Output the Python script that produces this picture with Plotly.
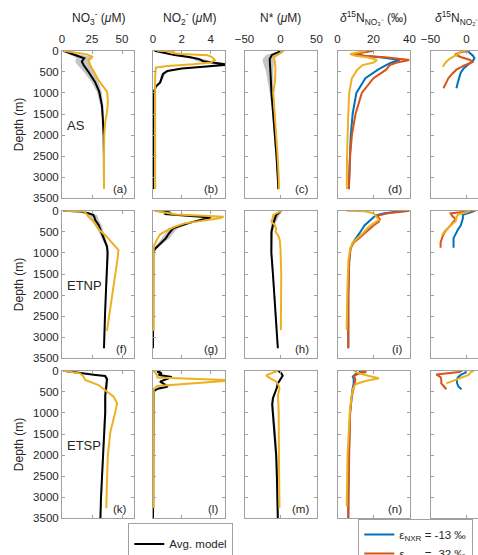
import plotly.graph_objects as go

W, H = 478, 555
FONT = "Liberation Sans, Arial, Helvetica, sans-serif"
TXT = "#262626"
AX = "#a0a0a0"
C_AVG, C_OBS, C_BLUE, C_ORANGE, C_BAND = "#000000", "#EDB120", "#0072BD", "#D95319", "rgba(150,150,150,0.55)"

# ---------------- data (depth in m) ----------------
# Arabian Sea (AS)
as_no3_avg_d = [0, 50, 100, 140, 180, 260, 340, 500, 740, 970, 1300, 1600, 2000, 2500, 3000, 3280]
as_no3_avg = [1, 6, 11, 15, 18.5, 16.5, 18, 22, 27.5, 31, 33.3, 34, 34.7, 34.9, 35, 35]
as_no3_lo = [0, 3, 7, 10, 12, 11, 13, 18, 24.5, 29, 32, 33.2, 34, 34.3, 34.5, 34.5]
as_no3_hi = [2, 10, 17, 24, 26, 22, 23, 26, 30.5, 33, 34.5, 35, 35.4, 35.5, 35.5, 35.5]
as_no3_obs_d = [0, 40, 87, 140, 220, 340, 450, 580, 700, 810, 970, 1200, 1450, 1700, 2000, 2500, 3000, 3280]
as_no3_obs = [1, 10, 20.7, 25, 22, 23.5, 25.5, 27.7, 30.5, 33.3, 37.5, 38.3, 37.5, 36, 35.2, 35, 35, 35]

as_no2_avg_d = [0, 30, 60, 100, 150, 200, 250, 300, 330, 380, 420, 480, 550, 650, 750, 850, 1000, 3280]
as_no2_avg = [0.1, 0.5, 0.8, 1.5, 2.5, 3.2, 3.5, 4.8, 5.2, 3.5, 2.0, 1.0, 0.7, 0.6, 0.5, 0.2, 0.03, 0.0]
as_no2_lo = [0, 0.3, 0.6, 1.2, 2.1, 2.8, 3.0, 4.3, 4.8, 3.0, 1.7, 0.8, 0.55, 0.5, 0.4, 0.1, 0, 0]
as_no2_hi = [0.2, 0.7, 1.0, 1.8, 2.9, 3.6, 4.0, 5.2, 5.5, 4.0, 2.3, 1.2, 0.85, 0.7, 0.6, 0.3, 0.06, 0.02]
as_no2_obs_d = [0, 20, 50, 80, 110, 150, 220, 280, 320, 360, 400, 600, 3280]
as_no2_obs = [0.3, 1.5, 1.2, 2.0, 3.8, 4.1, 4.3, 4.0, 2.8, 1.0, 0.2, 0.15, 0.15]

as_ns_avg_d = [0, 50, 100, 200, 300, 500, 1000, 1500, 2000, 2500, 3000, 3280]
as_ns_avg = [2, -5, -12, -15, -15, -14, -12.5, -10, -7.5, -5.5, -3.8, -3]
as_ns_lo = [0, -10, -20, -25, -24, -20, -15, -11.5, -9, -6.5, -4.8, -4]
as_ns_hi = [4, 0, -6, -9, -10, -10, -10, -8.5, -6, -4.5, -2.8, -2]
as_ns_obs_d = [0, 50, 100, 150, 250, 400, 700, 1000, 1500, 2000, 2500, 3000, 3280]
as_ns_obs = [5, 0, -6, -9, -8, -7, -7.5, -10, -8, -5.5, -4, -2.5, -2]

as_d15no3_d = [0, 40, 80, 120, 160, 220, 280, 340, 450, 650, 1000, 1500, 2000, 2500, 3000, 3280]
as_d15no3_obs = [16, 12, 7, 10, 17, 22, 20, 14, 11, 8, 6.5, 6, 5.5, 5.3, 5.2, 5.2]
as_d15no3_m13 = [18, 14, 9, 14, 25, 34.5, 30, 27, 22.5, 15.5, 10.5, 8.4, 7.4, 6.9, 6.5, 6.3]
as_d15no3_m32 = [20, 15, 9, 15, 28, 40, 33, 29, 27, 20, 13.5, 10, 8, 7, 6.5, 6.3]

as_d15no2_m13_d = [0, 60, 120, 180, 240, 320, 420, 520, 620, 750, 890]
as_d15no2_m13 = [1, 5, 9, 11, 9, 3, -4, -8, -10, -12, -14]
as_d15no2_m32_d = [0, 40, 90, 150, 220, 270, 350, 450, 550, 650, 750, 890]
as_d15no2_m32 = [3, -8, -16, -8, 5, 8, -3, -14, -20, -25, -28, -32]
as_d15no2_obs_d = [0, 30, 80, 140, 200, 280, 380]
as_d15no2_obs = [-2, -9, -12, -19, -24, -29, -33]

# Eastern Tropical North Pacific (ETNP)
etnp_no3_avg_d = [0, 20, 60, 100, 150, 220, 340, 500, 650, 850, 1000, 1500, 2000, 2500, 3000, 3260]
etnp_no3_avg = [1, 15, 22, 26, 27, 27.7, 30.5, 32.5, 34.7, 37.5, 38, 37.5, 36.5, 35.8, 35.2, 35]
etnp_no3_lo = [0, 13, 19, 22, 23, 24.5, 27.5, 30.5, 33, 36.5, 37, 36.8, 36, 35.3, 34.7, 34.5]
etnp_no3_hi = [2, 17, 25, 29, 30, 30.5, 33, 34.5, 36, 38.5, 39, 38.2, 37, 36.3, 35.7, 35.5]
etnp_no3_obs_d = [0, 20, 60, 140, 300, 450, 580, 700, 820, 930, 1100, 1500, 2000, 2500, 2850]
etnp_no3_obs = [1, 18, 20, 22, 27.5, 31, 36, 40, 43.5, 47, 46.5, 44.5, 42, 39.5, 37.5]

etnp_no2_avg_d = [0, 40, 80, 120, 160, 200, 300, 420, 540, 650, 750, 900, 1000, 3260]
etnp_no2_avg = [0.2, 1.2, 0.8, 2.5, 4.0, 3.5, 2.4, 1.4, 1.1, 0.9, 0.6, 0.15, 0.02, 0.0]
etnp_no2_lo = [0.1, 1.0, 0.6, 2.2, 3.7, 3.2, 2.1, 1.1, 0.85, 0.65, 0.4, 0.05, 0, 0]
etnp_no2_hi = [0.3, 1.4, 1.0, 2.8, 4.3, 3.8, 2.7, 1.7, 1.4, 1.15, 0.8, 0.25, 0.05, 0.02]
etnp_no2_obs_d = [0, 40, 90, 120, 145, 180, 230, 300, 380, 460, 560, 700, 850, 2850]
etnp_no2_obs = [0.1, 0.8, 1.6, 3.5, 4.9, 4.6, 3.5, 2.2, 1.5, 1.0, 0.5, 0.25, 0.05, 0.05]

etnp_ns_avg_d = [0, 50, 100, 200, 300, 500, 800, 1000, 1500, 2000, 2500, 3000, 3260]
etnp_ns_avg = [1, -3, -6, -8, -10, -12.5, -13, -12.7, -10.5, -8.5, -6.5, -4.5, -3.7]
etnp_ns_lo = [0, -6, -10, -12, -13, -14.5, -14.5, -13.7, -11.5, -9.5, -7.5, -5.5, -4.7]
etnp_ns_hi = [2, 0, -2, -4, -7, -10.5, -11.5, -11.7, -9.5, -7.5, -5.5, -3.5, -2.7]
etnp_ns_obs_d = [0, 50, 100, 180, 260, 340, 420, 500, 600, 700, 900, 1500, 2000, 2500, 2830]
etnp_ns_obs = [2, -5, -10, -11, -12.5, -8, -6, -7, -3, -1, 0, 1, 1, 1, 0.5]

etnp_d15no3_d = [0, 15, 60, 120, 200, 260, 350, 450, 550, 650, 750, 900, 1200, 2000, 3260]
etnp_d15no3_m13 = [38, 34, 26, 21, 19, 17, 15, 13.5, 12, 10.5, 8.7, 7.2, 6.5, 6, 6]
etnp_d15no3_m32 = [40, 38, 28, 22, 23.5, 23, 20, 17.5, 15, 12, 9, 7.2, 6.5, 6, 6]
etnp_d15no3_obs_d = [0, 15, 60, 140, 220, 300, 400, 540, 650, 750, 900, 1200, 2000, 2830]
etnp_d15no3_obs = [5, 15, 20, 21.5, 23, 20, 17, 14, 11, 8.5, 7, 6, 5.4, 5.1]

etnp_d15no2_m13_d = [0, 40, 100, 180, 260, 350, 450, 550, 650, 880]
etnp_d15no2_m13 = [12, 5, -5, -5, -6, -8, -12, -15, -18, -18]
etnp_d15no2_m32_d = [0, 20, 60, 120, 200, 300, 400, 500, 600, 750, 880]
etnp_d15no2_m32 = [12, 0, -22, -20, -15, -20, -25, -30, -33, -36, -36]
etnp_d15no2_obs_d = [0, 50, 100, 160, 250, 320, 400, 480, 580]
etnp_d15no2_obs = [5, -5, -12, -14, -15, -20, -25, -30, -34]

# Eastern Tropical South Pacific (ETSP)
etsp_no3_avg_d = [0, 20, 60, 100, 125, 200, 400, 600, 1000, 1500, 2000, 2500, 3000, 3500]
etsp_no3_avg = [1, 8, 17, 28, 36, 37.5, 37, 36, 36, 35, 34, 33, 32.5, 32]
etsp_no3_lo = [0, 6, 15, 26, 34.5, 36.3, 35.8, 35, 35, 34.2, 33.3, 32.3, 31.8, 31.3]
etsp_no3_hi = [2, 10, 19, 30, 37.5, 38.7, 38.2, 37, 37, 35.8, 34.7, 33.7, 33.2, 32.7]
etsp_no3_obs_d = [0, 30, 62, 140, 220, 340, 500, 615, 775, 970, 1450, 2000, 2500, 3000, 3260]
etsp_no3_obs = [1, 10, 15, 17.9, 19.3, 30.5, 37.5, 43, 45.9, 44.5, 40.3, 38.2, 37.6, 37, 36.9]

etsp_no2_avg_d = [0, 30, 60, 100, 150, 200, 260, 320, 380, 420, 480, 3500]
etsp_no2_avg = [0.5, 0.3, 0.6, 0.4, 1.3, 0.9, 0.5, 0.8, 1.0, 0.4, 0.05, 0]
etsp_no2_lo = [0.35, 0.15, 0.45, 0.25, 1.1, 0.7, 0.35, 0.6, 0.8, 0.25, 0, 0]
etsp_no2_hi = [0.65, 0.45, 0.75, 0.55, 1.5, 1.1, 0.65, 1.0, 1.2, 0.55, 0.1, 0.02]
etsp_no2_obs_d = [0, 60, 120, 160, 230, 360, 430, 3260]
etsp_no2_obs = [0.05, 0.15, 0.3, 0.3, 5.6, 0.3, 0.05, 0.05]

etsp_ns_avg_d = [0, 60, 120, 200, 300, 400, 500, 650, 800, 1000, 1500, 2000, 2500, 3000, 3500]
etsp_ns_avg = [-3, 1, 3, 0, -3.7, -5, -7, -10.5, -11.5, -10.5, -7.5, -6, -5, -4.3, -3.7]
etsp_ns_lo = [-4.5, -0.5, 1.5, -1.5, -5.2, -6.5, -8.5, -12, -13, -12, -9, -7.5, -6.5, -5.8, -5.2]
etsp_ns_hi = [-1.5, 2.5, 4.5, 1.5, -2.2, -3.5, -5.5, -9, -10, -9, -6, -4.5, -3.5, -2.8, -2.2]
etsp_ns_obs_d = [0, 50, 110, 180, 260, 330, 420, 577, 1000, 2000, 3000, 3250]
etsp_ns_obs = [-4, -12, -20, -14, -6, -3, -1.4, -3.5, -2.5, -2.2, -1.6, -1.4]

etsp_d15no3_d = [0, 30, 80, 140, 200, 300, 450, 650, 1000, 2000, 3000, 3500]
etsp_d15no3_m13 = [12, 14, 10, 8.5, 9, 9, 8.3, 7.8, 7, 6.3, 6, 6]
etsp_d15no3_m32 = [13, 16, 11, 9, 10, 9.5, 8.5, 7.8, 7, 6.3, 6, 6]
etsp_d15no3_obs_d = [0, 60, 120, 180, 250, 320, 420, 600, 1000, 2000, 3000, 3220]
etsp_d15no3_obs = [9, 12, 17, 23, 15, 10, 8.7, 7.8, 6.8, 5.6, 5.2, 5.1]

etsp_d15no2_m13_d = [0, 50, 100, 160, 220, 300, 380, 440]
etsp_d15no2_m13 = [0, -2, -8, -12, -13.5, -13, -11, -7]
etsp_d15no2_m32_d = [0, 30, 90, 150, 220, 300, 380, 440]
etsp_d15no2_m32 = [-6, -10, -42, -36, -35, -35, -31, -28]
etsp_d15no2_obs_d = [0, 40, 100, 180, 260, 300]
etsp_d15no2_obs = [10, 6, 3, -10, -23, -28]

# ---------------- labels ----------------
col_titles = ["NO<sub>3</sub><sup>-</sup> (<i>μ</i>M)", "NO<sub>2</sub><sup>-</sup> (<i>μ</i>M)",
              "N* (<i>μ</i>M)", "<i>δ</i><sup>15</sup>N<sub>NO₃⁻</sub> (‰)",
              "<i>δ</i><sup>15</sup>N<sub>NO₂⁻</sub> (‰)"]
region_names = ["AS", "ETNP", "ETSP"]
panel_letters = [["(a)", "(b)", "(c)", "(d)"], ["(f)", "(g)", "(h)", "(i)"], ["(k)", "(l)", "(m)", "(n)"]]
x_ranges = [[0, 60], [0, 5], [-50, 50], [0, 40], [-50, 50]]
x_ticks = [[0, 25, 50], [0, 2, 4], [-50, 0, 50], [0, 20, 40], [-50, 0, 50]]
depth_ticks = [0, 500, 1000, 1500, 2000, 2500, 3000, 3500]

# ---------------- layout geometry (pixels) ----------------
COL_LEFT = [62, 153, 244.5, 337.5, 430.5]
COL_W = 72
ROW_TOP = [50.7, 210.7, 370.7]
ROW_H = 147.7

fig = go.Figure()


def ax(k):
    return ("x", "y") if k == 1 else (f"x{k}", f"y{k}")


def band(k, d, lo, hi):
    xa, ya = ax(k)
    fig.add_trace(go.Scatter(x=list(lo) + list(hi)[::-1], y=list(d) + list(d)[::-1], fill="toself",
                             fillcolor=C_BAND, line=dict(width=0), mode="lines", hoverinfo="skip",
                             showlegend=False, xaxis=xa, yaxis=ya))


def line(k, x, d, color, name=None, legend=None):
    xa, ya = ax(k)
    fig.add_trace(go.Scatter(x=x, y=d, mode="lines", line=dict(color=color, width=2),
                             name=name, showlegend=name is not None,
                             legend=legend if legend else "legend", xaxis=xa, yaxis=ya))


regions = [
    dict(no3=(as_no3_avg_d, as_no3_avg, as_no3_lo, as_no3_hi, as_no3_obs_d, as_no3_obs),
         no2=(as_no2_avg_d, as_no2_avg, as_no2_lo, as_no2_hi, as_no2_obs_d, as_no2_obs),
         ns=(as_ns_avg_d, as_ns_avg, as_ns_lo, as_ns_hi, as_ns_obs_d, as_ns_obs),
         d3=(as_d15no3_d, as_d15no3_m13, as_d15no3_d, as_d15no3_m32, as_d15no3_d, as_d15no3_obs),
         d2=(as_d15no2_m13_d, as_d15no2_m13, as_d15no2_m32_d, as_d15no2_m32, as_d15no2_obs_d, as_d15no2_obs)),
    dict(no3=(etnp_no3_avg_d, etnp_no3_avg, etnp_no3_lo, etnp_no3_hi, etnp_no3_obs_d, etnp_no3_obs),
         no2=(etnp_no2_avg_d, etnp_no2_avg, etnp_no2_lo, etnp_no2_hi, etnp_no2_obs_d, etnp_no2_obs),
         ns=(etnp_ns_avg_d, etnp_ns_avg, etnp_ns_lo, etnp_ns_hi, etnp_ns_obs_d, etnp_ns_obs),
         d3=(etnp_d15no3_d, etnp_d15no3_m13, etnp_d15no3_d, etnp_d15no3_m32, etnp_d15no3_obs_d, etnp_d15no3_obs),
         d2=(etnp_d15no2_m13_d, etnp_d15no2_m13, etnp_d15no2_m32_d, etnp_d15no2_m32, etnp_d15no2_obs_d, etnp_d15no2_obs)),
    dict(no3=(etsp_no3_avg_d, etsp_no3_avg, etsp_no3_lo, etsp_no3_hi, etsp_no3_obs_d, etsp_no3_obs),
         no2=(etsp_no2_avg_d, etsp_no2_avg, etsp_no2_lo, etsp_no2_hi, etsp_no2_obs_d, etsp_no2_obs),
         ns=(etsp_ns_avg_d, etsp_ns_avg, etsp_ns_lo, etsp_ns_hi, etsp_ns_obs_d, etsp_ns_obs),
         d3=(etsp_d15no3_d, etsp_d15no3_m13, etsp_d15no3_d, etsp_d15no3_m32, etsp_d15no3_obs_d, etsp_d15no3_obs),
         d2=(etsp_d15no2_m13_d, etsp_d15no2_m13, etsp_d15no2_m32_d, etsp_d15no2_m32, etsp_d15no2_obs_d, etsp_d15no2_obs)),
]

legend_done = False
for r, reg in enumerate(regions):
    for c, key in enumerate(["no3", "no2", "ns"]):
        k = r * 5 + c + 1
        d, avg, lo, hi, od, obs = reg[key]
        band(k, d, lo, hi)
        show = (not legend_done)
        line(k, avg, d, C_AVG, name="Avg. model" if show else None, legend="legend")
        legend_done = True
        line(k, obs, od, C_OBS)
    for c, key in [(3, "d3"), (4, "d2")]:
        k = r * 5 + c + 1
        d13, v13, d32, v32, od, obs = reg[key]
        first = (r == 0 and c == 3)
        line(k, v13, d13, C_BLUE, name="ε<sub>NXR</sub> = -13 ‰" if first else None, legend="legend2")
        line(k, v32, d32, C_ORANGE, name="ε<sub>NXR</sub> = -32 ‰" if first else None, legend="legend2")
        line(k, obs, od, C_OBS)

layout = dict(width=W, height=H, paper_bgcolor="white", plot_bgcolor="white",
              margin=dict(l=0, r=0, t=0, b=0, autoexpand=False),
              font=dict(family=FONT, size=12, color=TXT))
annotations = []
for r in range(3):
    for c in range(5):
        k = r * 5 + c + 1
        xl = COL_LEFT[c]
        xr = W if c == 4 else xl + COL_W
        rng = list(x_ranges[c])
        if c == 4:
            rng = [rng[0], rng[0] + (xr - xl) / COL_W * (x_ranges[c][1] - x_ranges[c][0])]
        xname = "xaxis" if k == 1 else f"xaxis{k}"
        yname = "yaxis" if k == 1 else f"yaxis{k}"
        layout[xname] = dict(domain=[xl / W, xr / W], range=rng, anchor=ax(k)[1], side="top",
                             tickvals=x_ticks[c], ticks="inside", ticklen=3, tickcolor=AX,
                             showline=True, linecolor=AX, linewidth=1, mirror="ticks",
                             showgrid=False, zeroline=False, showticklabels=(r == 0),
                             ticklabelstandoff=2,
                             tickfont=dict(size=11.5, color=TXT))
        yt, yb = ROW_TOP[r], ROW_TOP[r] + ROW_H
        layout[yname] = dict(domain=[1 - yb / H, 1 - yt / H], range=[3500, 0], anchor=ax(k)[0],
                             tickvals=depth_ticks, ticks="inside", ticklen=3, tickcolor=AX,
                             showline=True, linecolor=AX, linewidth=1,
                             mirror=(False if c == 4 else "ticks"),
                             showgrid=False, zeroline=False, showticklabels=(c == 0),
                             tickfont=dict(size=11.5, color=TXT))
        if c == 0:
            layout[yname]["title"] = dict(text="Depth (m)", font=dict(size=12, color=TXT), standoff=6)
            annotations.append(dict(text=region_names[r], xref=f"x{k} domain" if k > 1 else "x domain",
                                    yref=ax(k)[1], x=0.04, y=1780, xanchor="left", yanchor="middle",
                                    showarrow=False, font=dict(size=13, color=TXT)))
        if c < 4:
            annotations.append(dict(text=panel_letters[r][c], xref=(f"x{k} domain" if k > 1 else "x domain"),
                                    yref=(f"y{k} domain" if k > 1 else "y domain"), x=0.93, y=0.065,
                                    xanchor="right", yanchor="middle", showarrow=False,
                                    font=dict(size=11.5, color=TXT)))
        if r == 0:
            if c < 4:
                annotations.append(dict(text=col_titles[c], xref=(f"x{k} domain" if k > 1 else "x domain"),
                                        yref="paper", x=0.5, y=1 - 18.3 / H, xanchor="center",
                                        yanchor="middle", showarrow=False, font=dict(size=12, color=TXT)))
            else:
                annotations.append(dict(text=col_titles[c], xref=ax(k)[0], yref="paper", x=3,
                                        y=1 - 18.3 / H, xanchor="center", yanchor="middle",
                                        showarrow=False, font=dict(size=12, color=TXT)))
layout["annotations"] = annotations
layout["legend"] = dict(x=128.3 / W, y=1 - 523.3 / H, xanchor="left", yanchor="top",
                        bordercolor=AX, borderwidth=1, bgcolor="white",
                        font=dict(size=11.5, color=TXT),
                        title=dict(text=".", font=dict(size=4, color="white")))
layout["legend2"] = dict(x=358.3 / W, y=1 - 519 / H, xanchor="left", yanchor="top",
                         bordercolor=AX, borderwidth=1, bgcolor="white",
                         font=dict(size=11.5, color=TXT), tracegroupgap=0)
fig.update_layout(**layout)
fig.write_html("out.html")
